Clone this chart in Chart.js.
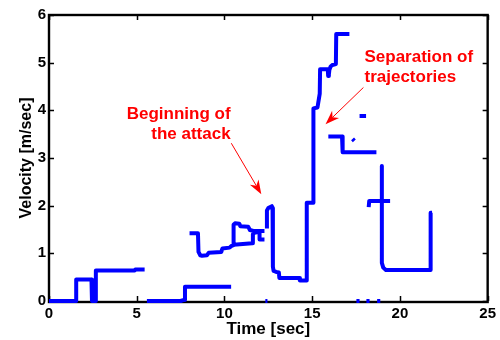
<!DOCTYPE html>
<html><head><meta charset="utf-8">
<script src="https://cdn.jsdelivr.net/npm/chart.js@4/dist/chart.umd.min.js"></script>
<style>html,body{margin:0;padding:0;background:#fff}</style>
</head><body>
<canvas id="c" width="500" height="340"></canvas>
<script>
// Velocity trace (null = break between pieces)
const timeSec = [
  0, 1.55, 1.55, 2.42, 2.45, 2.65, 2.67, 4.88, 4.92, 5.45, null,
  5.58, 7.5, 7.65, 7.72, 7.75, 10.38, null,
  8.01, 8.49, 8.52, 8.62, 8.72, 9.0, 9.1, 9.82, 9.88, 10.29, 10.38, 10.5, 10.52, 10.6, 10.85, 10.9, 11.35, 11.45, 11.65, 12.28, null,
  10.52, 11.58, 11.62, 11.7, 12.0, 12.0, 12.28, null,
  12.42, 12.42, 12.5, 12.7, 12.74, 12.76, 12.8, 12.95, 13.1, 13.13, 14.26, 14.3, 14.66, 14.69, 15.05, 15.07, 15.3, 15.43, 15.45, 15.89, 15.91, 15.95, 15.98, 16.05, 16.15, 16.35, 16.37, 17.12, null,
  15.92, 16.7, 16.72, 16.75, 18.66, null,
  17.3, 17.4, null,
  17.7, 18.07, null,
  18.22, 18.25, 19.44, null,
  18.97, 18.97, 19.05, 19.2, 21.72, 21.75, 21.83, null,
  12.33, 12.45, null,
  17.52, 17.7, null,
  18.09, 18.27, null,
  18.7, 18.88
];
const velocity = [
  0, 0, 0.45, 0.45, 0, 0, 0.64, 0.64, 0.66, 0.66, null,
  0, 0, 0.02, 0.02, 0.30, 0.30, null,
  1.42, 1.42, 1.03, 0.96, 0.95, 0.96, 1.01, 1.03, 1.10, 1.12, 1.15, 1.17, 1.60, 1.63, 1.62, 1.57, 1.56, 1.49, 1.47, 1.47, null,
  1.18, 1.21, 1.40, 1.43, 1.45, 1.29, 1.29, null,
  1.52, 1.90, 1.95, 1.99, 1.95, 0.72, 0.63, 0.61, 0.60, 0.48, 0.48, 0.43, 0.43, 2.06, 2.06, 4.04, 4.06, 4.35, 4.86, 4.86, 4.72, 4.75, 4.85, 4.92, 4.95, 4.97, 5.60, 5.60, null,
  3.45, 3.45, 3.15, 3.12, 3.12, null,
  3.40, 3.36, null,
  3.88, 3.88, null,
  1.97, 2.10, 2.10, null,
  2.83, 0.80, 0.70, 0.65, 0.65, 1.85, 1.85, null,
  0, 0, null,
  0, 0, null,
  0, 0, null,
  0, 0
];
const xTicks = [0, 5, 10, 15, 20, 25];
const yTicks = [0, 1, 2, 3, 4, 5, 6];
const xLabel = 'Time [sec]';
const yLabel = 'Velocity [m/sec]';
// Annotations (data coordinates)
const noteTexts = [['Beginning of', 'the attack'], ['Separation of', 'trajectories']];
const noteAnchors = [[10.35, 3.92], [17.98, 5.12]];
const noteAlign = ['right', 'left'];
const arrowFrom = [[10.39, 3.31], [17.92, 4.48]];
const arrowTo = [[12.1, 2.24], [15.76, 3.71]];

let lastX = 0;
const points = timeSec.map((t, i) => {
  if (t !== null) lastX = t;
  return { x: lastX, y: velocity[i] };
});

const FONT = '"Liberation Sans", Arial, Helvetica, sans-serif';

const framePlugin = {
  id: 'frame',
  beforeDatasetsDraw(chart) {
    const { ctx, chartArea: a, scales: { x, y } } = chart;
    ctx.save();
    ctx.strokeStyle = '#000';
    ctx.lineWidth = 1.5;
    const L = 5;
    ctx.beginPath();
    xTicks.forEach(v => {
      const px = Math.round(x.getPixelForValue(v)) + 0.5;
      ctx.moveTo(px, a.bottom); ctx.lineTo(px, a.bottom - L);
      ctx.moveTo(px, a.top); ctx.lineTo(px, a.top + L);
    });
    yTicks.forEach(v => {
      const py = Math.round(y.getPixelForValue(v)) + 0.5;
      ctx.moveTo(a.left, py); ctx.lineTo(a.left + L, py);
      ctx.moveTo(a.right, py); ctx.lineTo(a.right - L, py);
    });
    ctx.stroke();
    ctx.lineWidth = 2.4;
    ctx.strokeRect(a.left, a.top, a.right - a.left, a.bottom - a.top + 1);
    ctx.restore();
  },
  afterDatasetsDraw(chart) {
    const { ctx, scales: { x, y } } = chart;
    ctx.save();
    ctx.fillStyle = '#ff0000';
    ctx.strokeStyle = '#ff0000';
    ctx.font = 'bold 17px ' + FONT;
    ctx.textBaseline = 'middle';
    noteTexts.forEach((lines, k) => {
      ctx.textAlign = noteAlign[k];
      const px = x.getPixelForValue(noteAnchors[k][0]);
      const py = y.getPixelForValue(noteAnchors[k][1]);
      lines.forEach((s, j) => ctx.fillText(s, px, py + j * 20.5));
      const x0 = x.getPixelForValue(arrowFrom[k][0]), y0 = y.getPixelForValue(arrowFrom[k][1]);
      const x1 = x.getPixelForValue(arrowTo[k][0]), y1 = y.getPixelForValue(arrowTo[k][1]);
      const ang = Math.atan2(y1 - y0, x1 - x0);
      const hl = 14, hw = 5;
      const bx = x1 - hl * Math.cos(ang), by = y1 - hl * Math.sin(ang);
      const nx = x1 - hl * 0.7 * Math.cos(ang), ny = y1 - hl * 0.7 * Math.sin(ang);
      ctx.lineWidth = 1;
      ctx.beginPath(); ctx.moveTo(x0, y0); ctx.lineTo(nx, ny); ctx.stroke();
      ctx.beginPath();
      ctx.moveTo(x1, y1);
      ctx.lineTo(bx - hw * Math.sin(ang), by + hw * Math.cos(ang));
      ctx.lineTo(nx, ny);
      ctx.lineTo(bx + hw * Math.sin(ang), by - hw * Math.cos(ang));
      ctx.closePath(); ctx.fill();
    });
    ctx.restore();
  }
};

new Chart(document.getElementById('c'), {
  type: 'line',
  data: {
    datasets: [{
      data: points,
      borderColor: '#0000ff',
      borderWidth: 4,
      pointRadius: 0,
      pointHoverRadius: 0,
      spanGaps: false,
      tension: 0,
      borderJoinStyle: 'round',
      clip: false,
      fill: false
    }]
  },
  options: {
    responsive: false,
    animation: false,
    events: [],
    layout: { padding: { top: 15, right: 12, left: 0, bottom: 0 } },
    plugins: { legend: { display: false }, tooltip: { enabled: false } },
    scales: {
      x: {
        type: 'linear', min: 0, max: 25,
        afterBuildTicks(s) { s.ticks = xTicks.map(v => ({ value: v })); },
        ticks: { color: '#000', font: { family: FONT, size: 15, weight: 'bold' }, padding: 4, maxRotation: 0, autoSkip: false },
        grid: { display: false, drawTicks: false },
        border: { display: false },
        title: { display: true, text: xLabel, color: '#000', font: { family: FONT, size: 17, weight: 'bold' }, padding: { top: 0, bottom: 0 } },
        afterFit(s) { s.height = 39; }
      },
      y: {
        type: 'linear', min: 0, max: 6,
        afterBuildTicks(s) { s.ticks = yTicks.map(v => ({ value: v })); },
        ticks: { color: '#000', font: { family: FONT, size: 15, weight: 'bold' }, padding: 3, autoSkip: false },
        grid: { display: false, drawTicks: false },
        border: { display: false },
        title: { display: true, text: yLabel, color: '#000', font: { family: FONT, size: 16, weight: 'bold' }, padding: { top: 17, bottom: 0 } },
        afterFit(s) { s.width = 49; }
      }
    }
  },
  plugins: [framePlugin]
});
</script>
</body></html>
